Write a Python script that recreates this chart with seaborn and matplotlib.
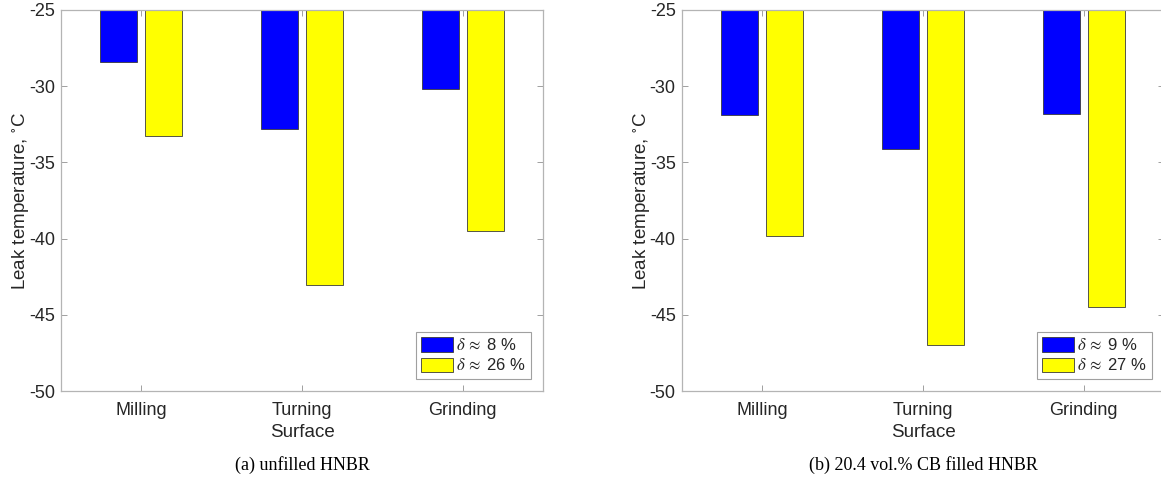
import matplotlib
matplotlib.use('Agg')
import matplotlib.pyplot as plt
import seaborn as sns
import pandas as pd

# ---- data ----
surfaces = ['Milling', 'Turning', 'Grinding']
unfilled_low = [-28.4, -32.8, -30.2]
unfilled_high = [-33.3, -43.05, -39.5]
filled_low = [-31.9, -34.1, -31.85]
filled_high = [-39.85, -47.0, -44.5]
legend_a = [r'$\delta\,\approx$ 8 %', r'$\delta\,\approx$ 26 %']
legend_b = [r'$\delta\,\approx$ 9 %', r'$\delta\,\approx$ 27 %']
captions = ['(a) unfilled HNBR', '(b) 20.4 vol.% CB filled HNBR']
yticks = [-50, -45, -40, -35, -30, -25]
ylabel = 'Leak temperature, $^{\\circ}$C'
xlabel = 'Surface'
colors = ['#0000ff', '#ffff00']

sns.set_theme(style='white')
plt.rcParams['font.family'] = ['Liberation Sans', 'DejaVu Sans']
plt.rcParams['mathtext.fontset'] = 'stix'

fig = plt.figure(figsize=(11.61, 4.8), dpi=100)
W, H = 1161, 480
ax_a = fig.add_axes([61 / W, (480 - 391) / H, 482 / W, 381 / H])
ax_b = fig.add_axes([682 / W, (480 - 391) / H, 482 / W, 381 / H])

panels = [
    (ax_a, unfilled_low, unfilled_high, legend_a, captions[0]),
    (ax_b, filled_low, filled_high, legend_b, captions[1]),
]

for ax, low, high, leg, cap in panels:
    df = pd.DataFrame({
        'surface': surfaces * 2,
        'value': low + high,
        'group': [leg[0]] * len(surfaces) + [leg[1]] * len(surfaces),
    })
    sns.barplot(data=df, x='surface', y='value', hue='group', hue_order=leg,
                order=surfaces, palette=colors, saturation=1, width=0.56, gap=0.18,
                edgecolor='#3a3a3a', linewidth=0.6, errorbar=None, ax=ax)
    ax.set_ylim(-50, -25)
    ax.set_xlim(-0.5, 2.5)
    ax.set_yticks(yticks)
    ax.set_yticklabels([str(t) for t in yticks])
    ax.set_ylabel(ylabel, fontsize=13.5, color='#262626', labelpad=-1.5)
    ax.set_xlabel(xlabel, fontsize=13.5, color='#262626', labelpad=3.5)
    ax.tick_params(axis='both', direction='in', length=4, width=0.6,
                   color='#909090', labelcolor='#262626', labelsize=13,
                   top=True, right=True, bottom=True, left=True)
    ax.tick_params(axis='y', pad=4.5)
    ax.tick_params(axis='x', pad=8)
    for sp in ax.spines.values():
        sp.set_color('#b4b4b4')
        sp.set_linewidth(0.9)
        sp.set_visible(True)
    handles, labels = ax.get_legend_handles_labels()
    lg = ax.legend(handles, labels, loc='lower right', fancybox=False,
                   framealpha=1, edgecolor='#a0a0a0', fontsize=12,
                   handlelength=1.95, handleheight=0.95, handletextpad=0.15,
                   borderpad=0.3, labelspacing=0.25, borderaxespad=0.75)
    lg.get_frame().set_linewidth(0.8)
    ax.text(0.5, -0.195, cap, transform=ax.transAxes, ha='center', va='center',
            fontsize=13, family=['Liberation Serif', 'DejaVu Serif'], color='black')

fig.savefig('out.png', dpi=100)
